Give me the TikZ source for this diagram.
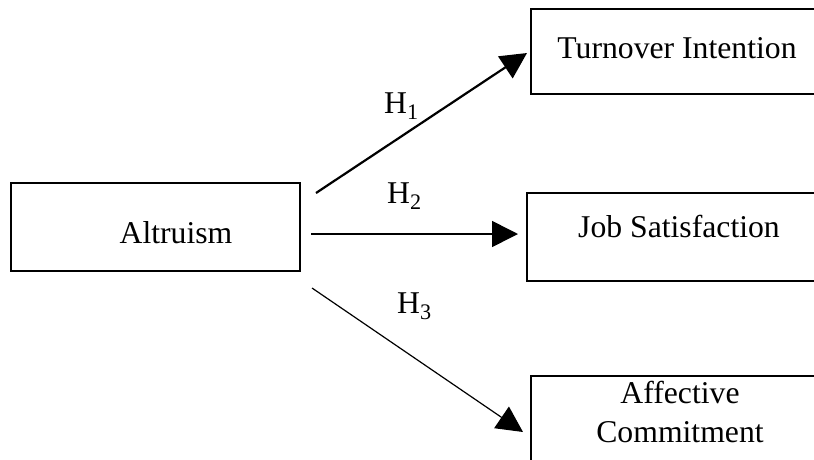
\documentclass[tikz,border=0pt]{standalone}
\usepackage{fontspec}
\setmainfont{Liberation Serif}
\usetikzlibrary{arrows.meta}
\begin{document}
\begin{tikzpicture}[x=1pt,y=-1pt,
  box/.style={draw, line width=1.8pt, rectangle, inner sep=0pt, outer sep=0pt},
  lbl/.style={font=\fontsize{31.7}{39}\selectfont, inner sep=0pt, outer sep=0pt},
  hyp/.style={font=\fontsize{31.7}{39}\selectfont, inner sep=0pt, anchor=base west},
  arr/.style={-{Triangle[length=26pt,width=26pt]}}]
\useasboundingbox (0,0) rectangle (814,459);
\clip (0,0) rectangle (814,459);
% boxes
\node[box, minimum width=289pt, minimum height=88pt] (alt) at (155.5,227) {};
\node[box, minimum width=309pt, minimum height=85pt] (turn) at (685.5,51.5) {};
\node[box, minimum width=313pt, minimum height=88pt] (job) at (683.5,237) {};
\node[box, minimum width=309pt, minimum height=94pt] (aff) at (685.5,423) {};
% box texts
\node[lbl, anchor=base] (altT) at (176,243) {Altruism};
\node[lbl, anchor=base] (turnT) at (677,58) {Turnover Intention};
\node[lbl, anchor=base] (jobT) at (679,237) {Job Satisfaction};
\node[lbl, anchor=base, align=center] (affT) at (680,442) {Affective\\Commitment};
% arrow end points
\coordinate (s1) at (316,193);
\coordinate (e1) at (527,53);
\coordinate (s2) at (311,234);
\coordinate (e2) at (518,234);
\coordinate (s3) at (312,288);
\coordinate (e3) at (523,432);
\draw[arr, line width=2.2pt] (s1) -- (e1);
\draw[arr, line width=1.6pt] (s2) -- (e2);
\draw[arr, line width=1.2pt] (s3) -- (e3);
% hypothesis labels
\node[hyp] (h1) at (384,113) {H\textsubscript{1}};
\node[hyp] (h2) at (387,203) {H\textsubscript{2}};
\node[hyp] (h3) at (397,313) {H\textsubscript{3}};
\end{tikzpicture}
\end{document}
